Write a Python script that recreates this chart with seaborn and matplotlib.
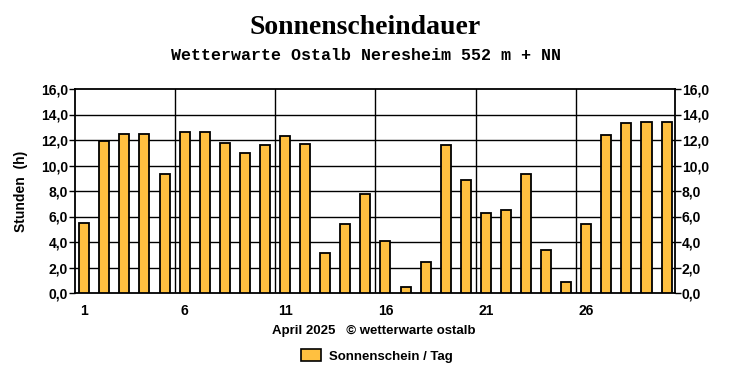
import matplotlib
matplotlib.use("Agg")
import matplotlib.pyplot as plt
import matplotlib.patches as mpatches
import pandas as pd
import seaborn as sns

# Daily sunshine hours, April 2025
days = list(range(1, 31))
sunshine = [5.5, 11.9, 12.5, 12.5, 9.3, 12.6, 12.6, 11.8, 11.0, 11.6,
            12.3, 11.7, 3.1, 5.4, 7.8, 4.1, 0.5, 2.4, 11.6, 8.9,
            6.3, 6.5, 9.3, 3.4, 0.9, 5.4, 12.4, 13.3, 13.4, 13.4]
y_ticks = [0, 2, 4, 6, 8, 10, 12, 14, 16]
x_label_days = [1, 6, 11, 16, 21, 26]

bar_color = "#FFC040"
sans = "Liberation Sans"

df = pd.DataFrame({"Tag": days, "Stunden": sunshine})

sns.set_theme(style="white")
plt.rcParams["font.family"] = [sans, "DejaVu Sans"]
plt.rcParams["text.color"] = "black"
plt.rcParams["axes.labelcolor"] = "black"
plt.rcParams["xtick.color"] = "black"
plt.rcParams["ytick.color"] = "black"

fig = plt.figure(figsize=(7.32, 3.80), dpi=100)
ax = fig.add_axes([75 / 732, (380 - 293) / 380, 600 / 732, 204 / 380])

sns.barplot(data=df, x="Tag", y="Stunden", order=days, color=bar_color,
            width=0.5, edgecolor="black", linewidth=1.3, saturation=1,
            ax=ax, zorder=3)

ax.set_xlim(-0.46, 29.42)
ax.set_ylim(0, 16)

# horizontal grid at each y tick, vertical grid before every 5th day
tick_labels = [f"{v:.1f}".replace(".", ",") for v in y_ticks]
ax.set_yticks(y_ticks)
ax.set_yticklabels(tick_labels, fontweight="bold", fontsize=10)
for v in y_ticks[1:-1]:
    ax.axhline(v, color="black", linewidth=1, zorder=1)
for d in x_label_days[1:]:
    ax.axvline(days.index(d) - 0.5, color="black", linewidth=1, zorder=1)

# x: labels under selected days, small ticks between bars
ax.set_xticks([days.index(d) for d in x_label_days])
ax.set_xticklabels([str(d) for d in x_label_days], fontweight="bold", fontsize=10)
ax.tick_params(axis="x", length=0, pad=8)
ax.set_xticks([i + 0.5 for i in range(len(days) - 1)], minor=True)
ax.tick_params(axis="x", which="minor", length=3, width=1, color="black", direction="out")
ax.tick_params(axis="y", length=4, width=1, color="black", direction="out", pad=1)

ax.set_xlabel("")
ax.set_ylabel("Stunden  (h)", fontweight="bold", fontsize=10, labelpad=9)

for s in ax.spines.values():
    s.set_color("black")
    s.set_linewidth(1.3)

ax2 = ax.twinx()
ax2.set_ylim(0, 16)
ax2.set_yticks(y_ticks)
ax2.set_yticklabels(tick_labels, fontweight="bold", fontsize=10)
ax2.tick_params(axis="y", length=4, width=1, color="black", direction="out", pad=1)
ax2.grid(False)
for s in ax2.spines.values():
    s.set_visible(False)

fig.text(365 / 732, 1 - 27 / 380, "Sonnenscheindauer", ha="center", va="center",
         family="Liberation Serif", fontweight="bold", fontsize=20)
fig.text(366 / 732, 1 - 55 / 380, "Wetterwarte Ostalb Neresheim 552 m + NN", ha="center",
         va="center", family="Liberation Mono", fontweight="bold", fontsize=12)
fig.text(374 / 732, 1 - 331 / 380, "April 2025   \u00a9 wetterwarte ostalb", ha="center",
         va="center", fontweight="bold", fontsize=9.5)

handle = mpatches.Patch(facecolor=bar_color, edgecolor="black", linewidth=1.2,
                        label="Sonnenschein / Tag")
fig.legend(handles=[handle], loc="center", bbox_to_anchor=(377 / 732, 1 - 356 / 380),
           frameon=False, prop={"weight": "bold", "size": 9.5},
           handlelength=1.5, handleheight=1.0, handletextpad=0.6)

fig.savefig("out.png", dpi=100, facecolor="white")
